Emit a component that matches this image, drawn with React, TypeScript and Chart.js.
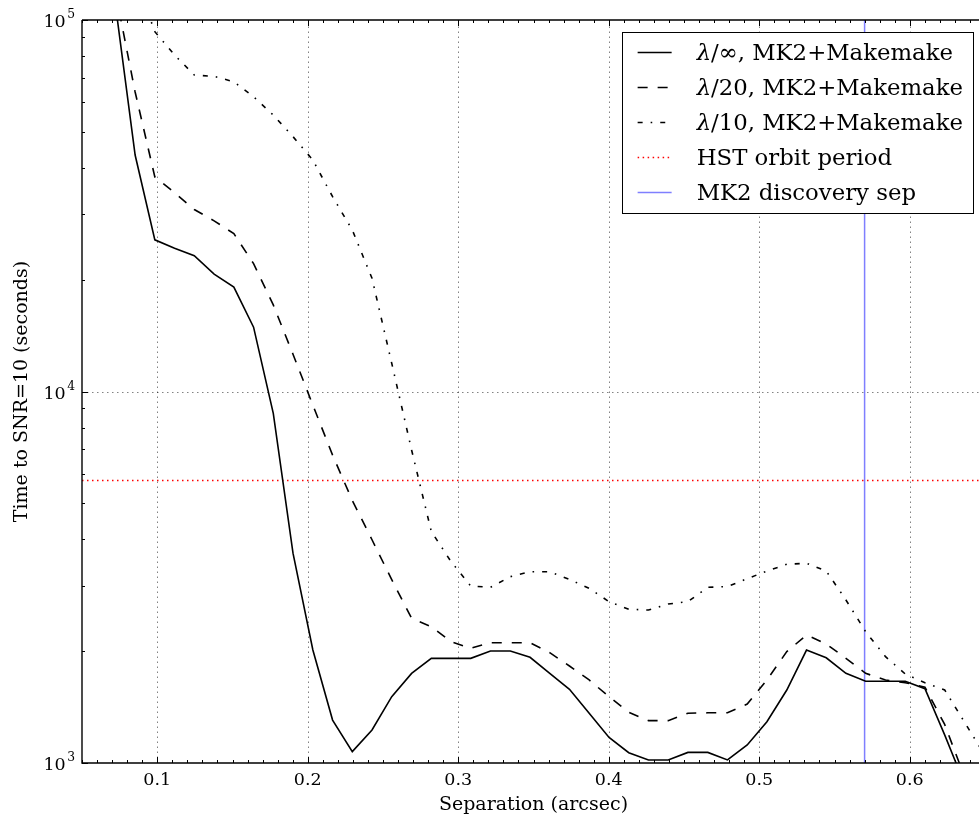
import React, { useEffect, useRef } from "react";
import { Chart, registerables } from "chart.js";

Chart.register(...registerables);

// ---- data ----
const separation = [
  0.0722, 0.0853, 0.0984, 0.1115, 0.1246, 0.1378, 0.1509, 0.164, 0.1771, 0.1902,
  0.2034, 0.2165, 0.2296, 0.2427, 0.2558, 0.269, 0.2821, 0.2952, 0.3083, 0.3214,
  0.3346, 0.3477, 0.3608, 0.3739, 0.387, 0.4002, 0.4133, 0.4264, 0.4395, 0.4526,
  0.4658, 0.4789, 0.492, 0.5051, 0.5183, 0.5314, 0.5445, 0.5576, 0.5707, 0.5839,
  0.597, 0.6101, 0.6232, 0.6363, 0.6495,
];

const timeLambdaInf = [
  110000, 43300, 25600, 24300, 23200, 20700, 19100, 14900, 8730, 3670,
  2015, 1305, 1073, 1227, 1509, 1743, 1913, 1913, 1913, 2002,
  2002, 1925, 1743, 1579, 1361, 1172, 1066, 1019, 1019, 1068,
  1068, 1019, 1118, 1292, 1572, 2013, 1920, 1743, 1660, 1660,
  1660, 1585, 1190, 880, null,
];

const timeLambda20 = [
  119000, 64000, 37800, 34300, 30900, 28800, 26600, 22100, 17100, 12600,
  9190, 6740, 5090, 3990, 3115, 2452, 2328, 2121, 2036, 2108,
  2108, 2108, 1981, 1824, 1673, 1508, 1369, 1300, 1300, 1361,
  1365, 1365, 1441, 1673, 1994, 2211, 2091, 1913, 1743, 1673,
  1645, 1600, 1270, 920, null,
];

const timeLambda10 = [
  180000, 130000, 93000, 80500, 71100, 70500, 68200, 62150, 55460, 48530,
  41980, 33450, 27210, 20170, 11910, 6960, 4200, 3483, 2995, 2971,
  3173, 3273, 3273, 3121, 2952, 2718, 2593, 2581, 2679, 2718,
  2971, 2985, 3134, 3287, 3426, 3450, 3287, 2747, 2256, 1933,
  1736, 1645, 1573, 1290, 1055,
];

const hstOrbitPeriod = 5760; // seconds
const mk2DiscoverySep = 0.57; // arcsec

const xLimits = [0.05, 0.65];
const yLimits = [1000, 100000];
const xTickLabels = [0.1, 0.2, 0.3, 0.4, 0.5, 0.6];
const yTickDecades = [1000, 10000, 100000];

const seriesLabels = [
  "λ/∞, MK2+Makemake",
  "λ/20, MK2+Makemake",
  "λ/10, MK2+Makemake",
  "HST orbit period",
  "MK2 discovery sep",
];

const xTitle = "Separation (arcsec)";
const yTitle = "Time to SNR=10 (seconds)";

const FONT = '"DejaVu Serif", serif';

function toPoints(xs: number[], ys: (number | null)[]) {
  return xs.map((x, i) => ({ x, y: ys[i] }));
}

const framePlugin = {
  id: "mplFrame",
  beforeDatasetsDraw(chart: any) {
    const { ctx, chartArea: a, scales } = chart;
    const xs = scales.x;
    const ys = scales.y;
    ctx.save();
    ctx.strokeStyle = "rgba(0,0,0,0.55)";
    ctx.lineWidth = 0.9;
    ctx.setLineDash([1.5, 3.5]);
    for (const v of xTickLabels) {
      const px = Math.round(xs.getPixelForValue(v)) + 0.5;
      ctx.beginPath();
      ctx.moveTo(px, a.bottom);
      ctx.lineTo(px, a.top);
      ctx.stroke();
    }
    for (const v of yTickDecades) {
      if (v <= yLimits[0] || v >= yLimits[1]) continue;
      const py = Math.round(ys.getPixelForValue(v)) + 0.5;
      ctx.beginPath();
      ctx.moveTo(a.left, py);
      ctx.lineTo(a.right, py);
      ctx.stroke();
    }
    ctx.restore();
  },
  afterDatasetsDraw(chart: any) {
    const { ctx, chartArea: a, scales } = chart;
    const xs = scales.x;
    const ys = scales.y;
    ctx.save();
    ctx.setLineDash([]);
    ctx.strokeStyle = "#000";
    ctx.lineWidth = 1.4;
    // spines
    ctx.beginPath();
    ctx.moveTo(a.left, a.top);
    ctx.lineTo(a.right, a.top);
    ctx.moveTo(a.left, a.top);
    ctx.lineTo(a.left, a.bottom);
    ctx.lineTo(a.right, a.bottom);
    ctx.stroke();

    // ticks (inward)
    ctx.lineWidth = 1;
    ctx.beginPath();
    for (let k = 5; k <= 65; k++) {
      const v = k / 100;
      const px = Math.round(xs.getPixelForValue(v)) + 0.5;
      const major = k % 10 === 0;
      const len = major ? 6 : 3;
      ctx.moveTo(px, a.bottom);
      ctx.lineTo(px, a.bottom - len);
      ctx.moveTo(px, a.top);
      ctx.lineTo(px, a.top + len);
    }
    for (const d of [1000, 10000]) {
      for (let m = 1; m <= 10; m++) {
        const v = d * m;
        const py = Math.round(ys.getPixelForValue(v)) + 0.5;
        const len = m === 1 || m === 10 ? 6 : 3;
        ctx.moveTo(a.left, py);
        ctx.lineTo(a.left + len, py);
      }
    }
    ctx.stroke();

    // tick labels
    ctx.fillStyle = "#000";
    const base = `17.5px ${FONT}`;
    const sup = `12.3px ${FONT}`;
    const titleFont = `19px ${FONT}`;
    ctx.font = base;
    ctx.textAlign = "center";
    ctx.textBaseline = "alphabetic";
    for (const v of xTickLabels) {
      ctx.fillText(String(v), xs.getPixelForValue(v), a.bottom + 22);
    }
    ctx.textAlign = "left";
    for (const v of yTickDecades) {
      const py = ys.getPixelForValue(v);
      const exp = String(Math.round(Math.log10(v)));
      ctx.font = sup;
      const ws = ctx.measureText(exp).width;
      const sx = a.left - 7 - ws;
      ctx.fillText(exp, sx, py - 2);
      ctx.font = base;
      const wb = ctx.measureText("10").width;
      ctx.fillText("10", sx - 1.5 - wb, py + 7);
    }

    // axis titles
    ctx.font = titleFont;
    ctx.textAlign = "center";
    ctx.fillText(xTitle, (a.left + a.right) / 2, a.bottom + 47);
    ctx.save();
    ctx.translate(27, (a.top + a.bottom) / 2);
    ctx.rotate(-Math.PI / 2);
    ctx.fillText(yTitle, 0, 0);
    ctx.restore();

    // legend
    const lf = `22.8px ${FONT}`;
    const lfi = `italic 22.8px ${FONT}`;
    const widths = chart.data.datasets.map((ds: any) => {
      const t: string = ds.label;
      if (t.startsWith("λ")) {
        ctx.font = lfi;
        const w1 = ctx.measureText("λ").width;
        ctx.font = lf;
        return w1 + ctx.measureText(t.slice(1)).width;
      }
      ctx.font = lf;
      return ctx.measureText(t).width;
    });
    const maxW = Math.max(...widths);
    const right = a.right - 12;
    const top = a.top + 12;
    const left = right - (75 + maxW + 10);
    const rowH = 35;
    const height = 20 + rowH * (chart.data.datasets.length - 1) + 21;
    ctx.fillStyle = "#fff";
    ctx.fillRect(left, top, right - left, height);
    ctx.strokeStyle = "#000";
    ctx.lineWidth = 1;
    ctx.strokeRect(Math.round(left) + 0.5, top + 0.5, Math.round(right - left), height);
    chart.data.datasets.forEach((ds: any, i: number) => {
      const ry = top + 20 + i * rowH;
      ctx.save();
      ctx.strokeStyle = ds.borderColor;
      ctx.lineWidth = ds.borderWidth;
      ctx.setLineDash(ds.borderDash || []);
      ctx.beginPath();
      ctx.moveTo(left + 16, Math.round(ry) + 0.5);
      ctx.lineTo(left + 50, Math.round(ry) + 0.5);
      ctx.stroke();
      ctx.restore();
      ctx.fillStyle = "#000";
      ctx.textAlign = "left";
      const t: string = ds.label;
      let tx = left + 75;
      const by = ry + 8;
      if (t.startsWith("λ")) {
        ctx.font = lfi;
        ctx.fillText("λ", tx, by);
        tx += ctx.measureText("λ").width;
        ctx.font = lf;
        ctx.fillText(t.slice(1), tx, by);
      } else {
        ctx.font = lf;
        ctx.fillText(t, tx, by);
      }
    });
    ctx.restore();
  },
};

export default function App() {
  const ref = useRef<HTMLCanvasElement | null>(null);

  useEffect(() => {
    if (!ref.current) return;
    const chart = new Chart(ref.current, {
      type: "line",
      data: {
        datasets: [
          {
            label: seriesLabels[0],
            data: toPoints(separation, timeLambdaInf),
            borderColor: "#000",
            borderWidth: 1.6,
            pointRadius: 0,
            tension: 0,
            clip: 0,
          },
          {
            label: seriesLabels[1],
            data: toPoints(separation, timeLambda20),
            borderColor: "#000",
            borderWidth: 1.6,
            borderDash: [10, 10],
            pointRadius: 0,
            tension: 0,
            clip: 0,
          },
          {
            label: seriesLabels[2],
            data: toPoints(separation, timeLambda10),
            borderColor: "#000",
            borderWidth: 1.6,
            borderDash: [5, 8, 1.6, 8],
            pointRadius: 0,
            tension: 0,
            clip: 0,
          },
          {
            label: seriesLabels[3],
            data: [
              { x: xLimits[0], y: hstOrbitPeriod },
              { x: xLimits[1], y: hstOrbitPeriod },
            ],
            borderColor: "#ff0000",
            borderWidth: 1.5,
            borderDash: [1.5, 3.5],
            pointRadius: 0,
            clip: 0,
          },
          {
            label: seriesLabels[4],
            data: [
              { x: mk2DiscoverySep, y: yLimits[0] },
              { x: mk2DiscoverySep, y: yLimits[1] },
            ],
            borderColor: "rgba(0,0,255,0.5)",
            borderWidth: 1.5,
            pointRadius: 0,
            clip: 0,
          },
        ],
      } as any,
      options: {
        animation: false,
        responsive: false,
        devicePixelRatio: 1,
        layout: { padding: { left: 82, top: 20, right: 5, bottom: 56 } },
        scales: {
          x: { type: "linear", min: xLimits[0], max: xLimits[1], display: false },
          y: { type: "logarithmic", min: yLimits[0], max: yLimits[1], display: false },
        },
        plugins: {
          legend: { display: false },
          tooltip: { enabled: false },
        },
      } as any,
      plugins: [framePlugin],
    });
    return () => chart.destroy();
  }, []);

  return (
    <div
      style={{
        position: "fixed",
        left: 0,
        top: 0,
        width: 979,
        height: 819,
        overflow: "hidden",
        background: "#fff",
      }}
    >
      <canvas ref={ref} width={990} height={819} style={{ display: "block", width: 990, height: 819 }} />
    </div>
  );
}
